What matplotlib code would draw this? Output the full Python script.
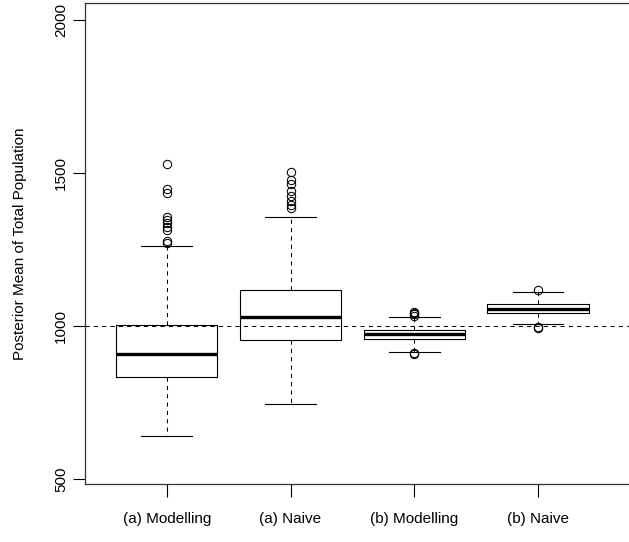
import matplotlib
matplotlib.use("Agg")
import matplotlib.pyplot as plt

plt.rcParams['font.family'] = ['Liberation Sans', 'DejaVu Sans']

# groups
labels = ["(a) Modelling", "(a) Naive", "(b) Modelling", "(b) Naive"]

# box stats
q1 = [833, 954, 957, 1041]
med = [909, 1030, 973, 1056]
q3 = [1004, 1118, 987, 1071]
whislo = [640, 744, 916, 1007]
whishi = [1262, 1357, 1028, 1112]
fliers = [
    [1528, 1447, 1434, 1357, 1346, 1336, 1325, 1314, 1279, 1270],
    [1504, 1476, 1463, 1440, 1425, 1410, 1395, 1385],
    [1033, 1038, 1042, 1045, 911, 908],
    [1118, 998, 995],
]
true_total = 1000

stats = []
for i in range(len(labels)):
    stats.append(dict(label=labels[i], q1=q1[i], med=med[i], q3=q3[i],
                      whislo=whislo[i], whishi=whishi[i], fliers=fliers[i]))

fig = plt.figure(figsize=(6.29, 5.42), dpi=100)
# axes: left edge at 85px, bottom at 484px, top at 3px; right side runs off the picture
ax = fig.add_axes([85 / 629, 58 / 542, 544 / 629, 481 / 542])

ax.axhline(true_total, color='black', lw=0.75, linestyle=(0, (4, 4)), zorder=0)

ax.bxp(stats, positions=[1, 2, 3, 4], widths=0.82, showfliers=True,
       boxprops=dict(color='black', lw=0.8),
       whiskerprops=dict(color='black', lw=0.75, linestyle=(0, (4, 4))),
       capprops=dict(color='black', lw=0.8),
       medianprops=dict(color='black', lw=2.4, solid_capstyle='butt'),
       flierprops=dict(marker='o', markerfacecolor='none', markeredgecolor='black',
                       markersize=6, markeredgewidth=0.75))

ax.set_xlim(0.34, 0.34 + 544 / 123.8)
ax.set_ylim(483.7, 2055.6)
ax.set_yticks([500, 1000, 1500, 2000])
ax.set_xticks([1, 2, 3, 4])
ax.set_xticklabels(labels)

for s in ['left', 'bottom', 'top']:
    ax.spines[s].set_linewidth(0.9)
    ax.spines[s].set_color('#333333')
ax.spines['right'].set_visible(False)

ax.tick_params(axis='x', length=9, width=0.8, pad=11, labelsize=11)
ax.tick_params(axis='y', length=9, width=0.8, pad=3, labelsize=11, labelrotation=90)
for t in ax.get_yticklabels():
    t.set_verticalalignment('center')

ax.set_ylabel("Posterior Mean of Total Population", fontsize=11)
ax.yaxis.set_label_coords(-58 / 544, 0.5)

fig.savefig("out.png", dpi=100)
